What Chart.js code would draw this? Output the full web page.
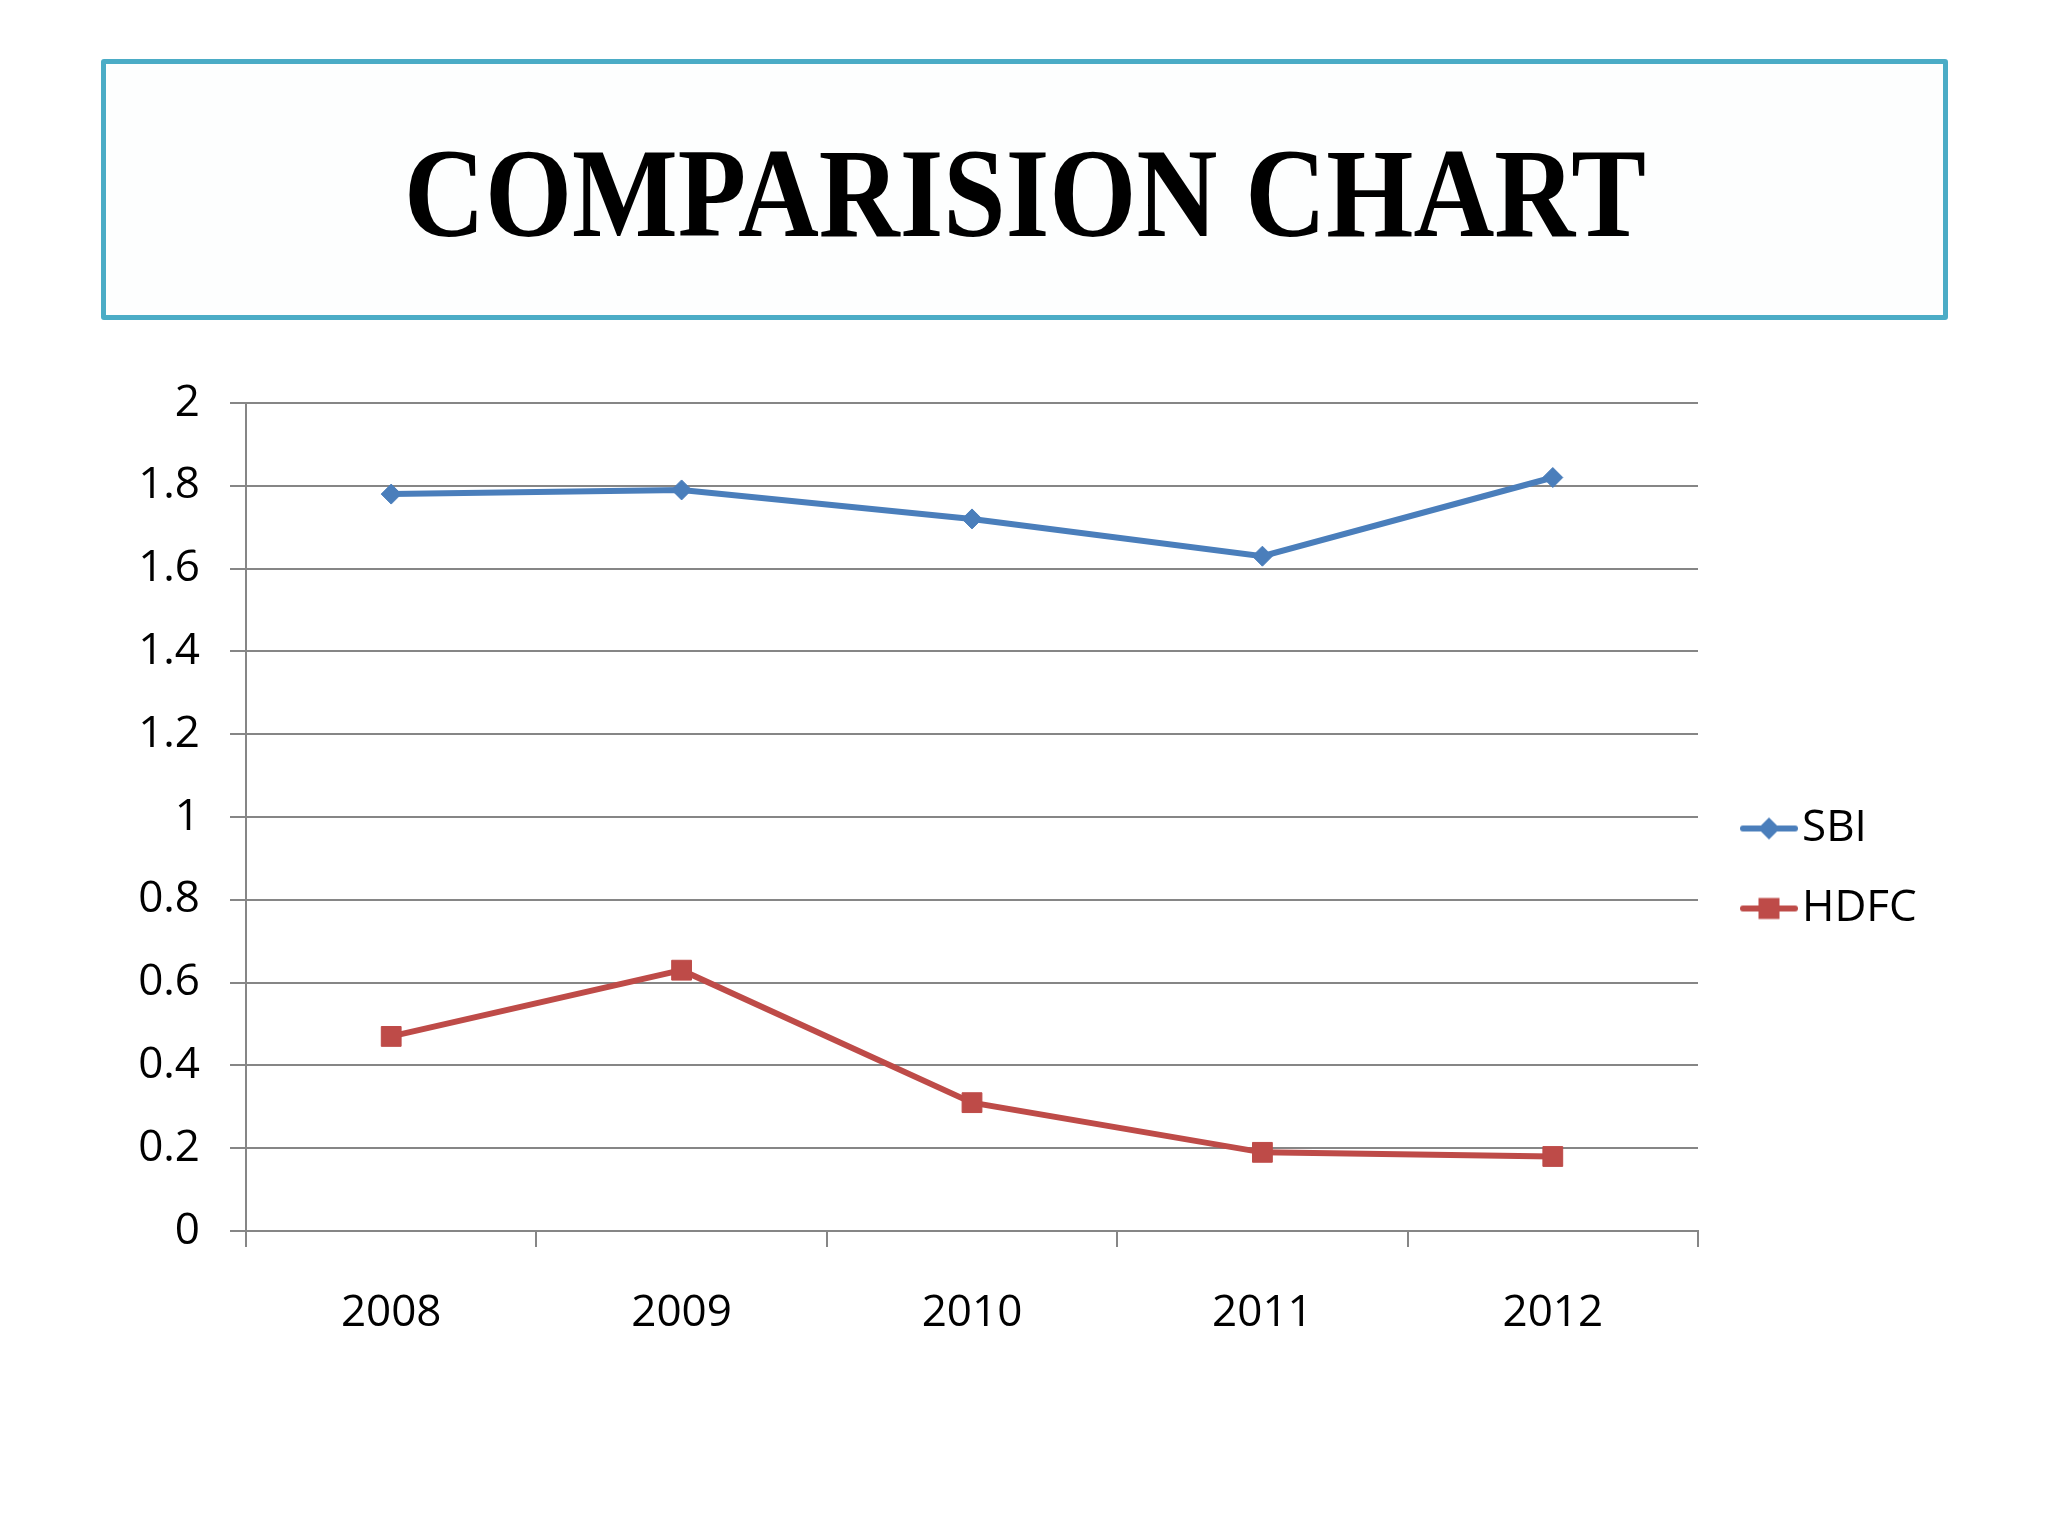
<!DOCTYPE html>
<html><head><meta charset="utf-8">
<script src="https://cdn.jsdelivr.net/npm/chart.js@4.4.0/dist/chart.umd.min.js"></script>
<style>
html,body{margin:0;padding:0;background:#fff;width:2048px;height:1536px;overflow:hidden;}
#titleBox{position:absolute;left:101px;top:59px;width:1847px;height:261px;box-sizing:border-box;border:5px solid #4BACC6;border-radius:3px;background:#fdfefe;}
#titleText{position:absolute;left:50%;top:65.6px;font-family:'Liberation Serif',serif;font-weight:bold;font-size:127px;line-height:127px;white-space:nowrap;color:#000;transform-origin:50% 50%;}
#chartWrap{position:absolute;left:0;top:340px;width:2048px;height:1034px;}
</style></head>
<body>
<div id="titleBox"><span id="titleText"></span></div>
<div id="chartWrap"><canvas id="c" width="2048" height="1034"></canvas></div>
<script>
const chartTitle = 'COMPARISION CHART';
const categories = ['2008', '2009', '2010', '2011', '2012'];
const seriesNames = ['SBI', 'HDFC'];
const sbiValues = [1.78, 1.79, 1.72, 1.63, 1.82];
const hdfcValues = [0.47, 0.63, 0.31, 0.19, 0.18];
const yTickLabels = ['0', '0.2', '0.4', '0.6', '0.8', '1', '1.2', '1.4', '1.6', '1.8', '2'];

const BLUE = '#4A7EBB';
const RED = '#BE4B48';
const GRID = '#868686';
const FONT = {family: "'Open Sans', sans-serif", size: 44};
const PLOT_RIGHT = 1698;

const titleEl = document.getElementById('titleText');
titleEl.textContent = chartTitle;
function fitTitle() {
  titleEl.style.transform = 'translateX(-50%)';
  const w = titleEl.getBoundingClientRect().width;
  titleEl.style.transform = 'translateX(-50%) scaleX(' + (1242 / w) + ')';
}
fitTitle();

function makeLegendImg(color, shape) {
  const c = document.createElement('canvas');
  c.width = 82; c.height = 28;
  const g = c.getContext('2d');
  g.strokeStyle = color; g.lineWidth = 6; g.lineCap = 'round';
  g.beginPath(); g.moveTo(27, 14); g.lineTo(79, 14); g.stroke();
  g.fillStyle = color;
  if (shape === 'diamond') {
    g.beginPath(); g.moveTo(53, 3); g.lineTo(64, 14); g.lineTo(53, 25); g.lineTo(42, 14); g.closePath(); g.fill();
  } else {
    g.fillRect(42.5, 3.5, 21, 21);
  }
  return c;
}
const legendImgs = [makeLegendImg(BLUE, 'diamond'), makeLegendImg(RED, 'square')];

const LEG_PAD = 36, LEG_BOX = 46;

const chart = new Chart(document.getElementById('c'), {
  type: 'line',
  data: {
    labels: categories,
    datasets: [
      {label: seriesNames[0], data: sbiValues, borderColor: BLUE, backgroundColor: BLUE, borderWidth: 6,
       pointStyle: 'rectRot', pointRadius: 10, pointBorderWidth: 1, pointBackgroundColor: BLUE, pointBorderColor: BLUE,
       tension: 0, fill: false},
      {label: seriesNames[1], data: hdfcValues, borderColor: RED, backgroundColor: RED, borderWidth: 6,
       pointStyle: 'rect', pointRadius: 14, pointBorderWidth: 1, pointBackgroundColor: RED, pointBorderColor: RED,
       tension: 0, fill: false}
    ]
  },
  options: {
    responsive: false,
    animation: false,
    devicePixelRatio: 1,
    layout: {padding: {top: 63, left: 138, right: 100, bottom: 40}},
    plugins: {
      title: {display: false},
      tooltip: {enabled: false},
      legend: {
        position: 'right', align: 'center', fullSize: true,
        labels: {
          usePointStyle: true, pointStyleWidth: LEG_BOX, padding: LEG_PAD, color: '#000', font: FONT,
          generateLabels: (ch) => ch.data.datasets.map((ds, i) => ({
            text: ds.label, pointStyle: legendImgs[i], fillStyle: ds.borderColor,
            strokeStyle: ds.borderColor, lineWidth: 0, hidden: false, datasetIndex: i, fontColor: '#000'
          }))
        }
      }
    },
    scales: {
      x: {
        type: 'category', offset: true,
        grid: {display: true, offset: true, drawOnChartArea: false, drawTicks: true, tickLength: 16, color: GRID, lineWidth: 2},
        border: {display: true, color: GRID, width: 2},
        ticks: {color: '#000', font: FONT, padding: 40, maxRotation: 0, autoSkip: false},
        afterFit: (s) => { s.height = 103; }
      },
      y: {
        min: 0, max: 2,
        grid: {color: GRID, lineWidth: 2, tickLength: 16, drawTicks: true},
        border: {display: true, color: GRID, width: 2},
        ticks: {stepSize: 0.2, color: '#000', font: FONT, padding: 30, callback: (v, i) => yTickLabels[i]},
        afterFit: (s) => { s.width = 108; }
      }
    }
  }
});

// calibrate right padding so the plot area ends at PLOT_RIGHT
function calibrate() {
  for (let k = 0; k < 3; k++) {
    const diff = PLOT_RIGHT - chart.chartArea.right;
    if (Math.abs(diff) < 0.5) break;
    chart.options.layout.padding.right = Math.max(0, chart.options.layout.padding.right - diff);
    chart.update();
  }
}
calibrate();
if (document.fonts && document.fonts.ready) {
  document.fonts.ready.then(() => { fitTitle(); chart.update(); calibrate(); });
}
</script>
</body></html>
